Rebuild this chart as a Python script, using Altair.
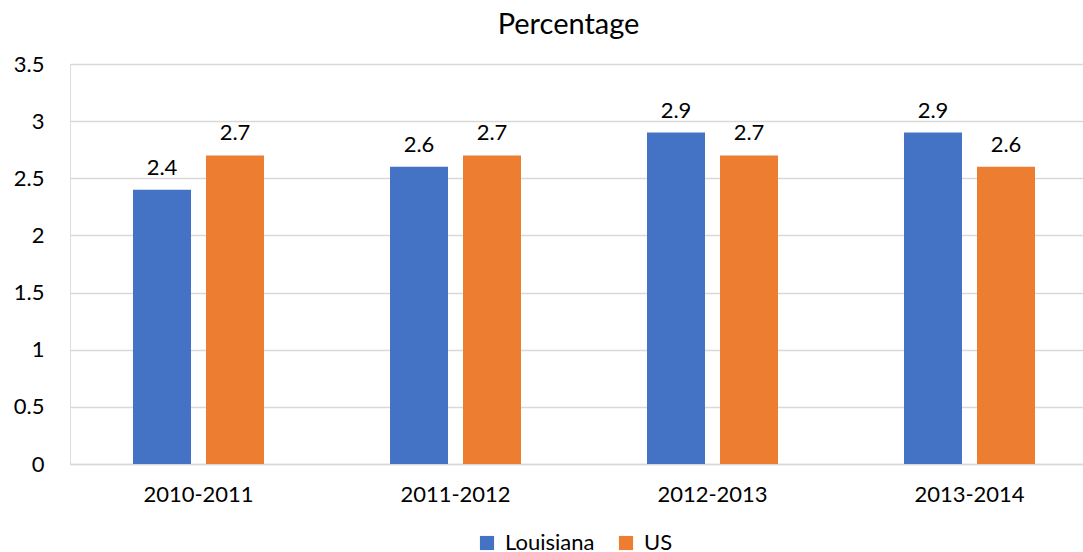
import altair as alt
import pandas as pd

years = ["2010-2011", "2011-2012", "2012-2013", "2013-2014"]
louisiana = [2.4, 2.6, 2.9, 2.9]
us = [2.7, 2.7, 2.7, 2.6]
series = ["Louisiana", "US"]
colors = ["#4472C4", "#ED7D31"]

rows = []
for i, y in enumerate(years):
    rows.append({"year": y, "series": "Louisiana", "value": louisiana[i]})
    rows.append({"year": y, "series": "US", "value": us[i]})
df = pd.DataFrame(rows)

FONT = "Lato"
FS = 22
W, H = 1013, 400

x = alt.X(
    "year:N",
    sort=years,
    title=None,
    scale=alt.Scale(range=[0, 1028], paddingInner=0, paddingOuter=0),
    axis=alt.Axis(
        labelAngle=0, labelFontSize=FS, labelFont=FONT, labelColor="#000000",
        labelPadding=20, ticks=False, domainColor="#d9d9d9", domainWidth=1.5,
        grid=False,
    ),
)
xo = alt.XOffset(
    "series:N", sort=series,
    scale=alt.Scale(paddingInner=0.2055, paddingOuter=0.863),
)
y = alt.Y(
    "value:Q",
    title=None,
    scale=alt.Scale(domain=[0, 3.5], nice=False),
    axis=alt.Axis(
        values=[0, 0.5, 1, 1.5, 2, 2.5, 3, 3.5], format="~g", labelFontSize=FS,
        labelFont=FONT, labelColor="#000000", labelPadding=26, ticks=False,
        domain=False, gridColor="#d9d9d9", gridWidth=1.5,
    ),
)
color = alt.Color(
    "series:N", sort=series,
    scale=alt.Scale(domain=series, range=colors),
    legend=alt.Legend(
        title=None, orient="none", direction="horizontal", legendX=406, legendY=468,
        symbolType="square", symbolSize=200, symbolStrokeWidth=0,
        labelFontSize=FS, labelFont=FONT, labelColor="#000000", columnPadding=20,
        labelOffset=7,
    ),
)

base = alt.Chart(df).encode(x=x, xOffset=xo, y=y)
bars = base.mark_bar().encode(color=color)
labels = base.mark_text(baseline="bottom", dy=-10, fontSize=FS, font=FONT, color="#000000").encode(
    text=alt.Text("value:Q", format=".1f")
)

chart = (
    alt.layer(bars, labels)
    .properties(
        width=W, height=H,
        title=alt.TitleParams("Percentage", fontSize=29, font=FONT, fontWeight="normal",
                              color="#000000", anchor="middle", dx=-8, offset=13),
        autosize=alt.AutoSizeParams(type="none"),
        padding={"left": 70, "top": 64, "right": 0, "bottom": 88},
    )
    .configure_view(stroke=None)
    .configure(background="#ffffff")
)

chart.save("out.html", embed_options={"renderer": "svg", "actions": False})
